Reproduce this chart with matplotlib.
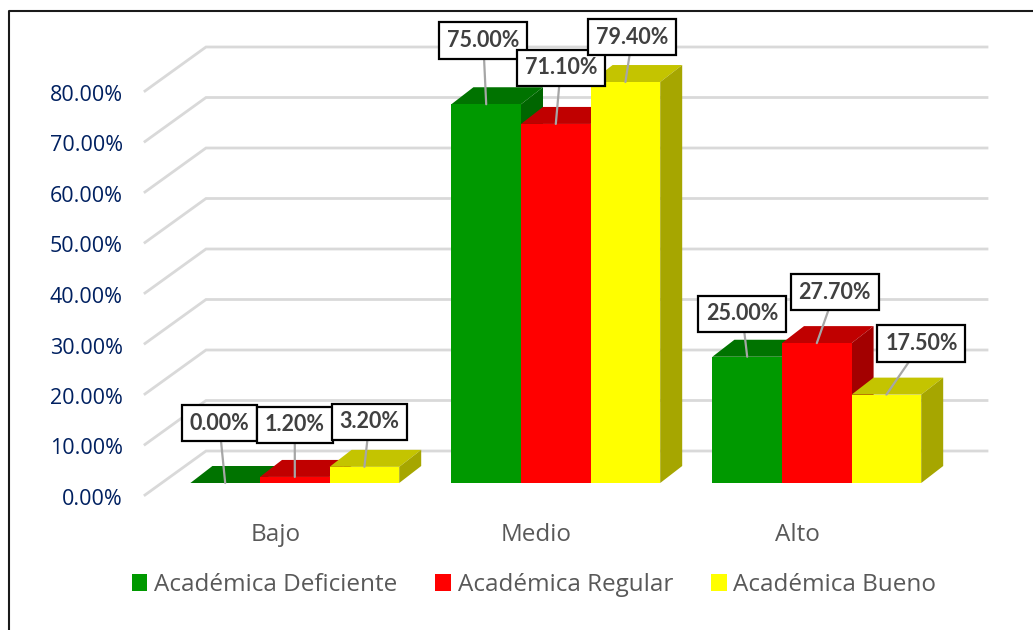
import matplotlib
matplotlib.use("Agg")
import matplotlib.pyplot as plt
from matplotlib.lines import Line2D
from matplotlib.patches import Patch, Polygon
from matplotlib.transforms import Affine2D
import numpy as np

categories = ["Bajo", "Medio", "Alto"]
deficiente = [0.0, 75.0, 25.0]
regular = [1.2, 71.1, 27.7]
bueno = [3.2, 79.4, 17.5]
series_names = ["Académica Deficiente", "Académica Regular", "Académica Bueno"]
y_ticks = [0, 10, 20, 30, 40, 50, 60, 70, 80]

front_colors = ["#009900", "#FF0000", "#FFFF00"]
top_colors = ["#007300", "#C00000", "#C4C400"]
side_colors = ["#006600", "#A30000", "#A6A600"]
grid_color = "#D9D9D9"

# label box centre as pixel offset from the top centre of each bar
label_offsets = [
    [(-6, 60), (0, 52), (5, 45)],
    [(-3, 64), (5, 56), (7, 45)],
    [(-5, 43), (18, 51), (35, 51)],
]

W, H = 1033, 630
LEFT, RIGHT, BOTTOM, TOP = 145, 928, 495, 10
PX_X = (RIGHT - LEFT) / 3
PX_Y = 5.05

plt.rcParams["font.family"] = ["Open Sans", "DejaVu Sans"]

fig = plt.figure(figsize=(W / 100, H / 100), dpi=100)
ax = fig.add_axes([LEFT / W, 1 - BOTTOM / H, (RIGHT - LEFT) / W, (BOTTOM - TOP) / H])
ax.set_xlim(-0.5, 2.5)
ax.set_ylim(0, (BOTTOM - TOP) / PX_Y)
for s in ax.spines.values():
    s.set_visible(False)
ax.patch.set_alpha(0)

# floor and back wall offsets of the fake 3d view
wall_dx, wall_dy = 61 / PX_X, 44 / PX_Y
wall_end = 2.5 + 59 / PX_X
front_dx, front_dy = 19.3 / PX_X, 12 / PX_Y
depth_dx, depth_dy = 22 / PX_X, 17 / PX_Y
bar_w = 69.6 / PX_X

for v in y_ticks:
    ax.plot([-0.5, -0.5 + wall_dx, wall_end], [v, v + wall_dy, v + wall_dy],
            color=grid_color, lw=2, clip_on=False, zorder=1, solid_joinstyle="miter")

values = [deficiente, regular, bueno]
z = 2
for i in range(len(categories)):
    for j, vals in enumerate(values):
        x0 = i + front_dx + (j - 1.5) * bar_w
        x1 = x0 + bar_w
        v = vals[i]
        y0 = front_dy
        y1 = front_dy + v
        ax.bar(x0, v, bottom=y0, width=bar_w, align="edge", color=front_colors[j], zorder=z + 0.2)
        # top and side faces
        ax.add_patch(Polygon([(x0, y1), (x1, y1), (x1 + depth_dx, y1 + depth_dy), (x0 + depth_dx, y1 + depth_dy)],
                             closed=True, fc=top_colors[j], ec="none", zorder=z, clip_on=False))
        ax.add_patch(Polygon([(x1, y0), (x1, y1), (x1 + depth_dx, y1 + depth_dy), (x1 + depth_dx, y0 + depth_dy)],
                             closed=True, fc=side_colors[j], ec="none", zorder=z + 0.1, clip_on=False))
        z += 1

# labels sit above all bars
for i in range(len(categories)):
    for j, vals in enumerate(values):
        x0 = i + front_dx + (j - 1.5) * bar_w
        y1 = front_dy + vals[i]
        ax.annotate(f"{vals[i]:.2f}%", xy=(x0 + bar_w / 2, y1),
                    xytext=label_offsets[i][j], textcoords="offset pixels",
                    ha="center", va="center", fontsize=15.5, fontweight="bold", color="#404040",
                    family=["Lato", "DejaVu Sans"], zorder=40 + j, annotation_clip=False,
                    bbox=dict(boxstyle="square,pad=0.36", fc="white", ec="black", lw=1.6, joinstyle="miter"),
                    arrowprops=dict(arrowstyle="-", color="#A6A6A6", lw=1.6, shrinkA=0, shrinkB=0))

ax.set_yticks(y_ticks)
ax.set_yticklabels([f"{v:.2f}%" for v in y_ticks])
ax.set_xticks(range(len(categories)))
ax.set_xticklabels(categories)
ax.tick_params(axis="y", length=0, pad=16, labelsize=15.5, labelcolor="#002060")
ax.tick_params(axis="x", length=0, pad=20, labelsize=17.5, labelcolor="#595959")
for t in ax.get_yticklabels():
    t.set_transform(t.get_transform() + Affine2D().translate(0, -2))

handles = [Patch(fc=c, ec="none") for c in front_colors]
leg = fig.legend(handles, series_names, loc="center", bbox_to_anchor=(534 / W, 1 - 585 / H), ncols=3,
                 frameon=False, fontsize=17.5, handlelength=0.65, handleheight=0.65,
                 handletextpad=0.28, columnspacing=1.55, labelcolor="#595959")

# outer frame, only left and top edges show in the crop
fig.add_artist(Line2D([9 / W, 9 / W, 1], [0, 1 - 11 / H, 1 - 11 / H],
                      color="#1A1A1A", lw=1.5))

fig.savefig("out.png", dpi=100)
